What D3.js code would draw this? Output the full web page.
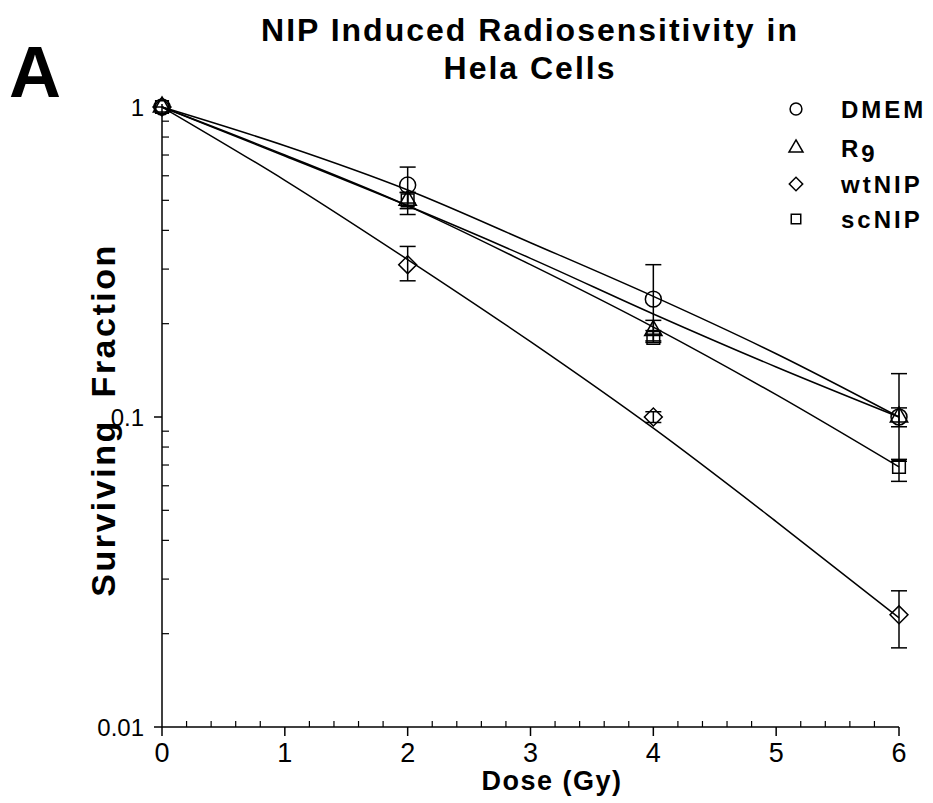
<!DOCTYPE html>
<html>
<head>
<meta charset="utf-8">
<script src="https://cdn.jsdelivr.net/npm/d3@7"></script>
<style>
  body { margin: 0; background: #fff; }
  text { font-family: "Liberation Sans", Arial, sans-serif; fill: #000; }
</style>
</head>
<body>
<div id="chart"></div>
<script>
// measured doses
const doses = [0, 2, 4, 6];

// surviving fraction, mean and error bar ends
const dmem = [1, 0.56, 0.24, 0.10];
const dmemHi = [1, 0.64, 0.31, 0.138];
const dmemLo = [1, 0.49, 0.185, 0.073];

const r9 = [1, 0.50, 0.19, 0.10];
const r9Hi = [1, 0.53, 0.205, 0.107];
const r9Lo = [1, 0.47, 0.176, 0.093];

const wtnip = [1, 0.31, 0.10, 0.023];
const wtnipHi = [1, 0.355, 0.104, 0.0275];
const wtnipLo = [1, 0.275, 0.096, 0.018];

const scnip = [1, 0.50, 0.18, 0.069];
const scnipHi = [1, 0.53, 0.19, 0.072];
const scnipLo = [1, 0.45, 0.174, 0.062];

// fitted curves at whole doses
const fitDoses = [0, 1, 2, 3, 4, 5, 6];
const dmemFit = [1, 0.75, 0.54, 0.365, 0.245, 0.16, 0.10];
const r9Fit = [1, 0.695, 0.48, 0.325, 0.215, 0.145, 0.10];
const wtnipFit = [1, 0.58, 0.322, 0.175, 0.092, 0.046, 0.0225];
const scnipFit = [1, 0.70, 0.48, 0.31, 0.195, 0.118, 0.069];

const xTicks = [0, 1, 2, 3, 4, 5, 6];
const yTicks = [1, 0.1, 0.01];

const width = 933, height = 803;
const margin = {top: 107, left: 162, right: 34, bottom: 76};

const svg = d3.select("#chart").append("svg")
    .attr("width", width)
    .attr("height", height);

const xScale = d3.scaleLinear()
    .domain([0, 6])
    .range([margin.left, width - margin.right]);

const yScale = d3.scaleLog()
    .domain([0.01, 1])
    .range([height - margin.bottom, margin.top]);

/* AXES */
const x0 = xScale(0), yBase = yScale(0.01);

svg.append("line")
    .attr("x1", x0).attr("x2", x0)
    .attr("y1", yScale(1) - 3).attr("y2", yBase)
    .attr("stroke", "#000").attr("stroke-width", 1.5);

svg.append("line")
    .attr("x1", x0).attr("x2", xScale(6))
    .attr("y1", yBase).attr("y2", yBase)
    .attr("stroke", "#000").attr("stroke-width", 1.5);

// x major ticks (down) and minor ticks (up)
xTicks.forEach(function(t) {
    svg.append("line")
        .attr("x1", xScale(t)).attr("x2", xScale(t))
        .attr("y1", yBase).attr("y2", yBase + 9)
        .attr("stroke", "#000").attr("stroke-width", 1.5);
    svg.append("text")
        .attr("x", xScale(t))
        .attr("y", yBase + 35)
        .attr("text-anchor", "middle")
        .attr("font-size", 27)
        .text(t);
});
d3.range(0, 30).forEach(function(i) {
    if (i % 5 === 0) return;
    const v = i * 0.2;
    svg.append("line")
        .attr("x1", xScale(v)).attr("x2", xScale(v))
        .attr("y1", yBase).attr("y2", yBase - 6)
        .attr("stroke", "#000").attr("stroke-width", 1.2);
});

// y major ticks (left) and minor ticks (right)
yTicks.forEach(function(t) {
    svg.append("line")
        .attr("x1", x0 - 8).attr("x2", x0)
        .attr("y1", yScale(t)).attr("y2", yScale(t))
        .attr("stroke", "#000").attr("stroke-width", 1.5);
    svg.append("text")
        .attr("x", x0 - 18)
        .attr("y", yScale(t) + 9)
        .attr("text-anchor", "end")
        .attr("font-size", 24)
        .text(t);
});
[0.01, 0.1].forEach(function(dec) {
    d3.range(2, 10).forEach(function(m) {
        const v = dec * m;
        svg.append("line")
            .attr("x1", x0).attr("x2", x0 + 7)
            .attr("y1", yScale(v)).attr("y2", yScale(v))
            .attr("stroke", "#000").attr("stroke-width", 1.2);
    });
});

/* FIT LINES */
const line = d3.line()
    .x(function(d) { return xScale(d[0]); })
    .y(function(d) { return yScale(d[1]); })
    .curve(d3.curveMonotoneX);

[dmemFit, r9Fit, wtnipFit, scnipFit].forEach(function(fit) {
    svg.append("path")
        .datum(fitDoses.map(function(d, i) { return [d, fit[i]]; }))
        .attr("d", line)
        .attr("fill", "none")
        .attr("stroke", "#000")
        .attr("stroke-width", 1.5);
});

/* ERROR BARS + MARKERS */
const series = [
    {name: "DMEM", mean: dmem, hi: dmemHi, lo: dmemLo, shape: d3.symbolCircle, size: 200},
    {name: "R9", mean: r9, hi: r9Hi, lo: r9Lo, shape: d3.symbolTriangle, size: 130},
    {name: "wtNIP", mean: wtnip, hi: wtnipHi, lo: wtnipLo, shape: d3.symbolDiamond, size: 160},
    {name: "scNIP", mean: scnip, hi: scnipHi, lo: scnipLo, shape: d3.symbolSquare, size: 160}
];

series.forEach(function(s) {
    doses.forEach(function(d, i) {
        if (s.hi[i] === s.lo[i]) return;
        const x = xScale(d);
        svg.append("line")
            .attr("x1", x).attr("x2", x)
            .attr("y1", yScale(s.hi[i])).attr("y2", yScale(s.lo[i]))
            .attr("stroke", "#000").attr("stroke-width", 1.5);
        [s.hi[i], s.lo[i]].forEach(function(v) {
            svg.append("line")
                .attr("x1", x - 8).attr("x2", x + 8)
                .attr("y1", yScale(v)).attr("y2", yScale(v))
                .attr("stroke", "#000").attr("stroke-width", 1.5);
        });
    });
});

function markerPath(s, size) {
    // diamond drawn as a rotated square so it is symmetric like the original
    const type = s.shape === d3.symbolDiamond ? d3.symbolSquare : s.shape;
    return d3.symbol().type(type).size(size)();
}
function markerRot(s) {
    return s.shape === d3.symbolDiamond ? " rotate(45)" : "";
}

series.forEach(function(s) {
    doses.forEach(function(d, i) {
        svg.append("path")
            .attr("d", markerPath(s, s.size))
            .attr("transform", `translate(${xScale(d)},${yScale(s.mean[i])})` + markerRot(s))
            .attr("fill", "none")
            .attr("stroke", "#000")
            .attr("stroke-width", 1.5);
    });
});

/* LEGEND */
const legendY = [109, 148, 184, 219];
const legendSize = [110, 85, 90, 90];
series.forEach(function(s, i) {
    svg.append("path")
        .attr("d", markerPath(s, legendSize[i]))
        .attr("transform", `translate(796,${legendY[i]})` + markerRot(s))
        .attr("fill", "none")
        .attr("stroke", "#000")
        .attr("stroke-width", 1.5);
    const t = svg.append("text")
        .attr("x", 841)
        .attr("y", legendY[i] + 9)
        .attr("font-size", 24)
        .attr("font-weight", "bold")
        .attr("letter-spacing", 3);
    if (s.name === "R9") {
        t.append("tspan").text("R");
        t.append("tspan").attr("dy", 5).text("9");
    } else {
        t.text(s.name);
    }
});

/* TITLES */
svg.append("text")
    .attr("x", 530).attr("y", 41)
    .attr("text-anchor", "middle")
    .attr("font-size", 32).attr("font-weight", "bold")
    .attr("letter-spacing", 2)
    .text("NIP Induced Radiosensitivity in");
svg.append("text")
    .attr("x", 530).attr("y", 79)
    .attr("text-anchor", "middle")
    .attr("font-size", 32).attr("font-weight", "bold")
    .attr("letter-spacing", 2)
    .text("Hela Cells");

svg.append("text")
    .attr("x", 9).attr("y", 97)
    .attr("font-size", 72).attr("font-weight", "bold")
    .text("A");

svg.append("text")
    .attr("x", 552).attr("y", 790)
    .attr("text-anchor", "middle")
    .attr("font-size", 27).attr("font-weight", "bold")
    .attr("letter-spacing", 1.5)
    .text("Dose (Gy)");

svg.append("text")
    .attr("transform", "rotate(-90)")
    .attr("x", -420).attr("y", 115)
    .attr("text-anchor", "middle")
    .attr("font-size", 34).attr("font-weight", "bold")
    .attr("letter-spacing", 2.5)
    .attr("word-spacing", 10)
    .text("Surviving Fraction");
</script>
</body>
</html>
